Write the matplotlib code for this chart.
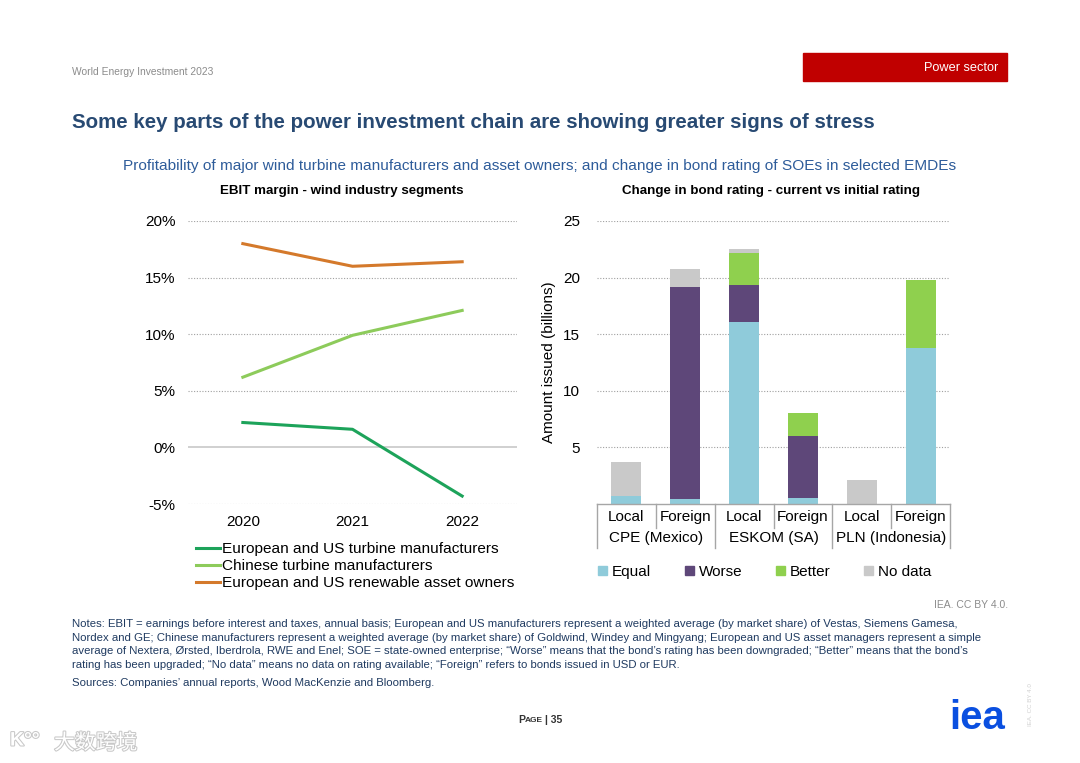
import matplotlib
matplotlib.use("Agg")
import matplotlib.pyplot as plt
import matplotlib.transforms as mtransforms
import matplotlib.patheffects as pe
from matplotlib.patches import Rectangle, Patch
import numpy as np

plt.rcParams['font.family'] = ['Liberation Sans', 'DejaVu Sans']

# EBIT margin data (%)
years = ["2020", "2021", "2022"]
ebit_eu_us_turbines = [2.2, 1.6, -4.3]
ebit_cn_turbines = [6.2, 9.9, 12.1]
ebit_eu_us_owners = [18.0, 16.0, 16.4]
line_labels = ["European and US turbine manufacturers",
               "Chinese turbine manufacturers",
               "European and US renewable asset owners"]
line_colors = ['#1DA35A', '#8DCB5B', '#D4792B']

# Bond rating data (billions)
issue_type = ["Local", "Foreign", "Local", "Foreign", "Local", "Foreign"]
companies = ["CPE (Mexico)", "ESKOM (SA)", "PLN (Indonesia)"]
equal = [0.7, 0.4, 16.1, 0.5, 0.0, 13.8]
worse = [0.0, 18.8, 3.25, 5.5, 0.0, 0.0]
better = [0.0, 0.0, 2.85, 2.0, 0.0, 6.0]
no_data = [3.0, 1.6, 0.35, 0.0, 2.1, 0.0]
bar_labels = ["Equal", "Worse", "Better", "No data"]
bar_colors = ['#8FCBDA', '#5E4779', '#8FD04E', '#C9C9C9']

W, H = 1080, 763
fig = plt.figure(figsize=(W / 100, H / 100), dpi=100)

def fx(px):
    return px / W

def fy(py):
    return 1 - py / H

# ---- header ----
fig.text(fx(72), fy(72), "World Energy Investment 2023", fontsize=7.4, color='#8c8c8c', va='center')
fig.patches.append(Rectangle((fx(803), fy(81)), fx(1007 - 803), (81 - 53) / H,
                             transform=fig.transFigure, color='#C00000', zorder=1))
fig.text(fx(998), fy(68), "Power sector", fontsize=9.2, color='white', ha='right', va='center', zorder=2)
fig.text(fx(72), fy(122), "Some key parts of the power investment chain are showing greater signs of stress",
         fontsize=14.8, fontweight='bold', color='#284A73', va='center')
fig.text(fx(540), fy(166), "Profitability of major wind turbine manufacturers and asset owners; "
         "and change in bond rating of SOEs in selected EMDEs",
         fontsize=11.1, color='#2E5C9A', ha='center', va='center')
fig.text(fx(342), fy(191), "EBIT margin - wind industry segments", fontsize=9.6, fontweight='bold',
         ha='center', va='center')
fig.text(fx(771), fy(191), "Change in bond rating - current vs initial rating", fontsize=9.6,
         fontweight='bold', ha='center', va='center')

# ---- left: EBIT margin ----
ax1 = fig.add_axes([fx(188), fy(504), fx(517 - 188), (504 - 221) / H])
x = np.arange(len(years))
for vals, lab, col in zip([ebit_eu_us_turbines, ebit_cn_turbines, ebit_eu_us_owners], line_labels, line_colors):
    ax1.plot(x, vals, color=col, lw=2.2, label=lab, clip_on=False, zorder=3)
ax1.set_xlim(-0.5, 2.5)
ax1.set_ylim(-5, 20)
ax1.set_yticks([-5, 0, 5, 10, 15, 20])
ax1.set_yticklabels([f"{v}%" for v in [-5, 0, 5, 10, 15, 20]])
ax1.set_xticks(x)
ax1.set_xticklabels(years)
ax1.tick_params(length=0, labelsize=11, pad=9)
ax1.tick_params(axis='x', pad=8)
for s in ax1.spines.values():
    s.set_visible(False)
for v in [-5, 5, 10, 15, 20]:
    ax1.axhline(v, color='#a0a0a0', lw=0.8, ls=(0, (1, 1.5)), zorder=1)
ax1.axhline(0, color='#c8c8c8', lw=1.2, zorder=1)
ax1.legend(loc='upper left', bbox_to_anchor=(0.0, -0.108), frameon=False, fontsize=11.1,
           handlelength=1.6, labelspacing=0.2, handletextpad=0.1, borderpad=0)

# ---- right: bond rating ----
ax2 = fig.add_axes([fx(597), fy(504), fx(950 - 597), (504 - 221) / H])
xb = np.arange(len(issue_type))
bottom = np.zeros(len(xb))
for vals, lab, col in zip([equal, worse, better, no_data], bar_labels, bar_colors):
    ax2.bar(xb, vals, 0.51, bottom=bottom, color=col, label=lab, zorder=3)
    bottom += np.array(vals)
ax2.set_xlim(-0.5, 5.5)
ax2.set_ylim(0, 25)
ax2.set_yticks([5, 10, 15, 20, 25])
ax2.set_xticks([])
ax2.tick_params(length=0, labelsize=11, pad=12)
for s in ax2.spines.values():
    s.set_visible(False)
for v in [5, 10, 15, 20, 25]:
    ax2.axhline(v, color='#a0a0a0', lw=0.8, ls=(0, (1, 1.5)), zorder=1)
ax2.set_ylabel("Amount issued (billions)", fontsize=11, labelpad=5)

# hierarchical category axis
tr = mtransforms.blended_transform_factory(ax2.transData, ax2.transAxes)
hh = 504 - 221
short = -(528 - 504) / hh
long_ = -(548 - 504) / hh
ax2.plot([-0.5, 5.5], [0, 0], transform=tr, color='#a6a6a6', lw=1, clip_on=False, zorder=4)
for i in range(len(issue_type) + 1):
    xe = i - 0.5
    y_end = long_ if i % 2 == 0 else short
    ax2.plot([xe, xe], [0, y_end], transform=tr, color='#a6a6a6', lw=1, clip_on=False)
for i, lab in enumerate(issue_type):
    ax2.text(i, -(517 - 504) / hh, lab, transform=tr, ha='center', va='center', fontsize=11)
for j, lab in enumerate(companies):
    ax2.text(2 * j + 0.5, -(538 - 504) / hh, lab, transform=tr, ha='center', va='center', fontsize=11)

handles = [Patch(color=c, label=l) for c, l in zip(bar_colors, bar_labels)]
ax2.legend(handles=handles, loc='center', bbox_to_anchor=(0.475, -(572 - 504) / hh), ncol=4,
           frameon=False, fontsize=11, handlelength=0.6, handleheight=0.6, handletextpad=0.3,
           columnspacing=2.2, borderpad=0)

# ---- footer ----
fig.text(fx(1008), fy(605), "IEA. CC BY 4.0.", fontsize=7.5, color='#8c8c8c', ha='right', va='center')
notes = ("Notes: EBIT = earnings before interest and taxes, annual basis; European and US manufacturers represent a weighted average (by market share) of Vestas, Siemens Gamesa,\n"
         "Nordex and GE; Chinese manufacturers represent a weighted average (by market share) of Goldwind, Windey and Mingyang; European and US asset managers represent a simple\n"
         "average of Nextera, \u00d8rsted, Iberdrola, RWE and Enel; SOE = state-owned enterprise; \u201cWorse\u201d means that the bond\u2019s rating has been downgraded; \u201cBetter\u201d means that the bond\u2019s\n"
         "rating has been upgraded; \u201cNo data\u201d means no data on rating available; \u201cForeign\u201d refers to bonds issued in USD or EUR.")
fig.text(fx(72), fy(619), notes, fontsize=8.2, color='#1F3A60', va='top', linespacing=1.45)
fig.text(fx(72), fy(683), "Sources: Companies\u2019 annual reports, Wood MacKenzie and Bloomberg.",
         fontsize=8.2, color='#1F3A60', va='center')
fig.text(fx(518), fy(720), "P", fontsize=7.5, color='#333333', ha='left', va='center', fontweight='bold')
fig.text(fx(524.5), fy(720.5), "AGE", fontsize=6, color='#333333', ha='left', va='center', fontweight='bold')
fig.text(fx(545), fy(720), "| 35", fontsize=7.5, color='#333333', ha='left', va='center', fontweight='bold')
fig.text(fx(977), fy(718), "iea", fontsize=29, color='#0A4FE0', ha='center', va='center', fontweight='bold')
fig.text(fx(1030), fy(705), "IEA. CC BY 4.0", fontsize=4.5, color='#d0d0d0', rotation=90, ha='center', va='center')
fig.text(fx(54), fy(743), "\u5927\u6570\u8de8\u5883", fontsize=15, color='white', va='center',
         family=['Noto Sans CJK SC', 'DejaVu Sans'],
         path_effects=[pe.withStroke(linewidth=1.5, foreground='#c8c8c8')])
fig.text(fx(10), fy(741), "K\u00b0\u00b0", fontsize=14, color='white', va='center', fontweight='bold',
         path_effects=[pe.withStroke(linewidth=1.5, foreground='#c8c8c8')])

fig.savefig("out.png", dpi=100)
